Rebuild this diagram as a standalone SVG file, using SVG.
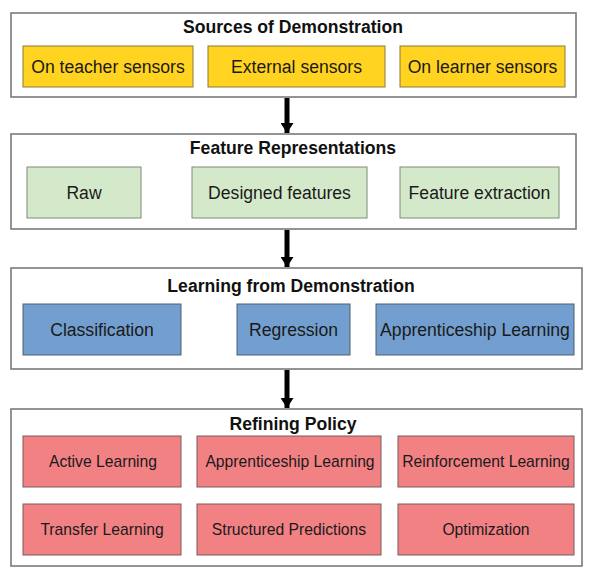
<svg xmlns="http://www.w3.org/2000/svg" width="592" height="581" viewBox="0 0 592 581">
<defs>
<style>
.frame{fill:#ffffff;stroke:#7a7a7a;stroke-width:1.6}
.title{font-family:"Liberation Sans",Arial,sans-serif;font-size:17.6px;font-weight:bold;fill:#111;text-anchor:middle}
.lbl{font-family:"Liberation Sans",Arial,sans-serif;font-size:17.6px;fill:#1a1a1a;text-anchor:middle}
.lbls{font-family:"Liberation Sans",Arial,sans-serif;font-size:15.7px;fill:#1a1a1a;text-anchor:middle}
.y{fill:#FFD320;stroke:#8a7a3a;stroke-width:1}
.g{fill:#D4E9CA;stroke:#7f8a7a;stroke-width:1}
.b{fill:#729FCF;stroke:#4f5f70;stroke-width:1}
.r{fill:#F28184;stroke:#7a5a5a;stroke-width:1}
.arrow{stroke:#000;stroke-width:5;fill:none}
</style>
<marker id="ah" viewBox="0 0 10 13" refX="10" refY="6.5" markerWidth="10" markerHeight="13" markerUnits="userSpaceOnUse" orient="auto">
<path d="M0,0 L10,6.5 L0,13 Z" fill="#000"/>
</marker>
</defs>

<g id="sources">
<rect class="frame" x="11" y="13" width="565" height="84"/>
<text class="title" x="293" y="33">Sources of Demonstration</text>
<g id="on-teacher"><rect class="y" x="23" y="46" width="170" height="41"/><text class="lbl" x="108" y="72.5">On teacher sensors</text></g>
<g id="external"><rect class="y" x="208" y="46" width="177" height="41"/><text class="lbl" x="296.5" y="72.5">External sensors</text></g>
<g id="on-learner"><rect class="y" x="400" y="46" width="165" height="41"/><text class="lbl" x="482.5" y="72.5">On learner sensors</text></g>
</g>

<g id="features">
<rect class="frame" x="11" y="134" width="565" height="95"/>
<text class="title" x="293" y="154">Feature Representations</text>
<g id="raw"><rect class="g" x="27" y="167" width="114" height="51"/><text class="lbl" x="84" y="199">Raw</text></g>
<g id="designed"><rect class="g" x="192" y="167" width="175" height="51"/><text class="lbl" x="279.5" y="199">Designed features</text></g>
<g id="extraction"><rect class="g" x="400" y="167" width="159" height="51"/><text class="lbl" x="479.5" y="199">Feature extraction</text></g>
</g>

<g id="lfd">
<rect class="frame" x="11" y="268" width="571" height="101"/>
<text class="title" x="291" y="292">Learning from Demonstration</text>
<g id="classification"><rect class="b" x="23" y="304" width="158" height="51"/><text class="lbl" x="102" y="336">Classification</text></g>
<g id="regression"><rect class="b" x="237" y="304" width="113" height="51"/><text class="lbl" x="293.5" y="336">Regression</text></g>
<g id="apprenticeship"><rect class="b" x="376" y="304" width="198" height="51"/><text class="lbl" x="475" y="336">Apprenticeship Learning</text></g>
</g>

<g id="refining">
<rect class="frame" x="11" y="409" width="571" height="157"/>
<text class="title" x="293" y="430">Refining Policy</text>
<g id="active"><rect class="r" x="23" y="436" width="158" height="51"/><text class="lbls" x="103" y="467">Active Learning</text></g>
<g id="apprenticeship2"><rect class="r" x="197" y="436" width="184" height="51"/><text class="lbls" x="290" y="467">Apprenticeship Learning</text></g>
<g id="reinforcement"><rect class="r" x="398" y="436" width="176" height="51"/><text class="lbls" x="486" y="467">Reinforcement Learning</text></g>
<g id="transfer"><rect class="r" x="23" y="504" width="158" height="51"/><text class="lbls" x="102" y="535">Transfer Learning</text></g>
<g id="structured"><rect class="r" x="197" y="504" width="184" height="51"/><text class="lbls" x="289" y="535">Structured Predictions</text></g>
<g id="optimization"><rect class="r" x="398" y="504" width="176" height="51"/><text class="lbls" x="486" y="535">Optimization</text></g>
</g>

<g id="connectors">
<line class="arrow" x1="287" y1="98" x2="287" y2="133" marker-end="url(#ah)"/>
<line class="arrow" x1="287" y1="230" x2="287" y2="267" marker-end="url(#ah)"/>
<line class="arrow" x1="287" y1="370" x2="287" y2="408" marker-end="url(#ah)"/>
</g>
</svg>
